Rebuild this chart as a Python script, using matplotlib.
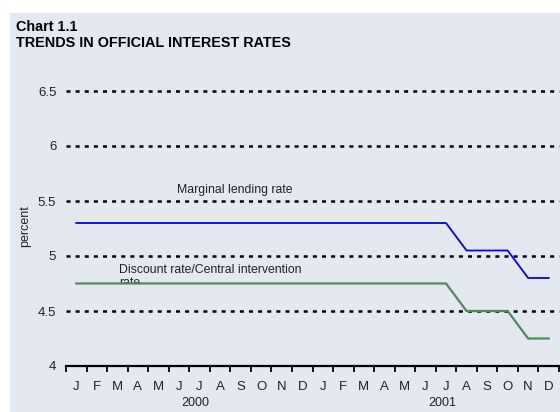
import matplotlib
matplotlib.use('Agg')
import matplotlib.pyplot as plt
from matplotlib.patches import Rectangle
from matplotlib.transforms import Bbox, TransformedBbox

plt.rcParams['font.family'] = ['Liberation Sans', 'DejaVu Sans']

months = ['J', 'F', 'M', 'A', 'M', 'J', 'J', 'A', 'S', 'O', 'N', 'D'] * 2
years = ['2000', '2001']
marginal_lending = [5.3] * 19 + [5.05, 5.05, 5.05, 4.8, 4.8]
discount_rate = [4.75] * 19 + [4.5, 4.5, 4.5, 4.25, 4.25]
yticks = [4, 4.5, 5, 5.5, 6, 6.5]

BG = '#e4e8f0'
TXT = '#222222'
W, H = 560, 412

fig = plt.figure(figsize=(W / 100, H / 100), dpi=100)
fig.patches.append(Rectangle((10 / W, 0), 1 - 10 / W, 1 - 13 / H,
                             transform=fig.transFigure, facecolor=BG,
                             edgecolor='none', zorder=-1))

ax = fig.add_axes([66 / W, (H - 366) / H, (559 - 66) / W, (366 - 91) / H])
ax.set_facecolor('none')

x = [i + 0.5 for i in range(len(months))]
ax.plot(x, marginal_lending, color='#0000ff', lw=1.3, zorder=3, clip_on=False)
ax.plot(x, discount_rate, color='#4f8a5b', lw=1.6, zorder=3, clip_on=False)

ax.set_xlim(0, 24)
ax.set_ylim(4, 6.5)
ax.set_yticks(yticks)
ax.set_yticklabels(['4', '4.5', '5', '5.5', '6', '6.5'], fontsize=9.5, color=TXT)
ax.tick_params(axis='y', length=0, pad=7)

ax.set_xticks(range(25))
ax.set_xticklabels([])
ax.set_xticks(x, minor=True)
ax.set_xticklabels(months, minor=True, fontsize=9.5, color=TXT)
ax.tick_params(axis='x', which='major', direction='out', length=4, width=1.3)
ax.tick_params(axis='x', which='minor', length=0, pad=11)

ax.grid(axis='y', color='black', lw=1.8, linestyle=(0, (1.6, 2.05)))
for gl in ax.get_ygridlines():
    gl.set_clip_on(False)
ax.get_ygridlines()[0].set_visible(False)
ax.set_axisbelow(True)

for s in ['top', 'right', 'left']:
    ax.spines[s].set_visible(False)
ax.spines['bottom'].set_linewidth(1.6)
ax.spines['bottom'].set_zorder(4)

for i, yr in enumerate(years):
    ax.text(i * 12 + 6.3, -37 / 275, yr, transform=ax.get_xaxis_transform(),
            ha='center', va='center', fontsize=9, color=TXT)

ax.text(5.4, 5.6, 'Marginal lending rate', fontsize=8.8, color=TXT,
        ha='left', va='center')
label = ax.text(2.6, 4.81, 'Discount rate/Central intervention\nrate', fontsize=8.8,
                color=TXT, ha='left', va='center', linespacing=1.1, zorder=2)
label.set_clip_box(TransformedBbox(Bbox([[0, 4.75], [24, 6.5]]), ax.transData))
label.set_clip_on(True)

fig.text(25 / W, 1 - 226 / H, 'percent', rotation=90, fontsize=9,
         color=TXT, ha='center', va='center')

fig.text(16 / W, 1 - 27 / H, 'Chart 1.1', fontsize=10.4, fontweight='bold',
         ha='left', va='center')
fig.text(16 / W, 1 - 43 / H, 'TRENDS IN OFFICIAL INTEREST RATES', fontsize=10.4,
         fontweight='bold', ha='left', va='center')

plt.savefig('out.png', dpi=100)
